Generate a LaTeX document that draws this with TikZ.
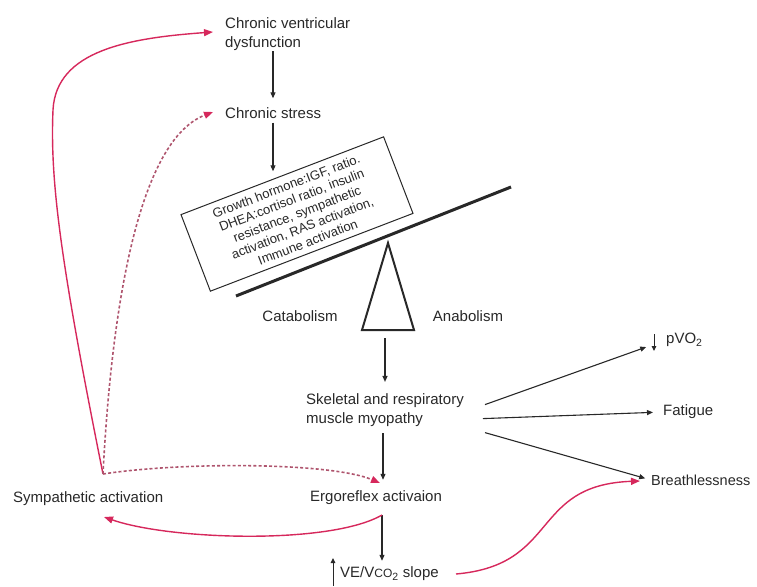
\documentclass[tikz,border=0pt]{standalone}
\usepackage{fontspec}
\setmainfont{Liberation Sans}
\usetikzlibrary{arrows.meta,calc}
\definecolor{linkred}{RGB}{214,40,92}
\definecolor{dashred}{RGB}{175,85,110}
\definecolor{ink}{RGB}{40,40,40}
\begin{document}
\begin{tikzpicture}[x=1pt,y=-1pt,
  lbl/.style={inner sep=0pt, anchor=west, text=ink, font=\fontsize{15}{19}\selectfont, align=left},
  blk/.style={draw=ink, line width=1.1pt, -{Triangle[length=6pt,width=5pt]}},
  mini/.style={draw=ink, line width=1pt, -{Triangle[length=5pt,width=4.5pt]}},
  redarr/.style={draw=linkred, line width=1.4pt, -{Triangle[length=9pt,width=7pt]}},
  reddash/.style={draw=dashred, line width=1.6pt, dash pattern=on 3pt off 2.2pt,
    -{Triangle[length=9pt,width=7pt,color=linkred]}}
]
\useasboundingbox (0,0) rectangle (757,586);

% text nodes
\node[lbl] (cvd) at (225,34.6) {Chronic ventricular\\dysfunction};
\node[lbl] (cs)  at (225,113) {Chronic stress};
\node[draw=ink, line width=1pt, rotate=21, minimum width=217pt, minimum height=82pt,
      align=center, inner sep=0pt, text=ink, font=\fontsize{13}{15}\selectfont]
      (box) at (297,214) {Growth hormone:IGF, ratio.\\ DHEA:cortisol ratio, insulin\\
      resistance, sympathetic\\ activation, RAS activation,\\ Immune activation};
\node[lbl, anchor=center] (cat) at (300,316) {Catabolism};
\node[lbl, anchor=center] (ana) at (468,316) {Anabolism};
\node[lbl] (myo) at (306,410.6) {Skeletal and respiratory\\muscle myopathy};
\node[lbl] (pvo) at (666,340) {pVO\textsubscript{2}};
\node[lbl] (fat) at (663,412) {Fatigue};
\node[lbl, font=\fontsize{14.5}{18}\selectfont] (bre) at (651,480) {Breathlessness};
\node[lbl] (erg) at (310,498) {Ergoreflex activaion};
\node[lbl] (sym) at (13,499) {Sympathetic activation};
\node[lbl] (ve)  at (340,574) {VE/V{\fontsize{12}{14}\selectfont CO}\textsubscript{2} slope};

% balance: lever and fulcrum
\draw[ink, line width=3pt] (236,296) -- (511,187);
\draw[ink, line width=2pt, line join=miter] (388,243) -- (414,330) -- (362,330) -- cycle;
\coordinate (fulcrum) at (385,330);

% connector ports
\coordinate (symUp)  at (103,474);
\coordinate (symIn)  at (104,517);
\coordinate (ergIn)  at (380,483);
\coordinate (ergOut) at (382,515);
\coordinate (veOut)  at (456,574);
\coordinate (breIn)  at (640,481);
\coordinate (csIn)   at (213,112);
\coordinate (cvdIn)  at (213,32);

% black flow
\draw[blk, shorten >=9pt] (cvd.south -| 273,0) -- (cs.north -| 273,0);
\draw[blk, shorten <=4pt, shorten >=4pt] (cs.south -| 273,0) -- (box.north -| 273,0);
\draw[blk, shorten <=8pt, shorten >=12pt] (fulcrum) -- (myo.north -| fulcrum);
\draw[blk, shorten <=6pt, shorten >=11pt] (myo.south -| 383,0) -- (erg.north -| 383,0);
\draw[blk, shorten <=10pt, shorten >=6pt] (erg.south -| 382,0) -- (ve.north -| 382,0);
\draw[blk, shorten >=21pt] ($(myo.east)+(21,-6)$) -- (pvo.west);
\draw[blk, shorten >=10pt] ($(myo.east)+(19,8)$) -- (fat.west);
\draw[blk, shorten >=6pt] ($(myo.east)+(21,22)$) -- (bre.west);

% small up/down marks
\draw[mini] ($(pvo.west)+(-12,-6)$) -- ($(pvo.west)+(-12,11)$);
\draw[mini] ($(ve.west)+(-7,12)$) -- ($(ve.west)+(-7,-16)$);

% feedback loops
\draw[redarr] (ergOut) .. controls (330,545) and (170,540) .. (symIn);
\draw[redarr] (veOut) .. controls (560,565) and (530,485) .. (breIn);
\draw[redarr] (symUp) .. controls (60,260) and (50,180) .. (53,110)
              .. controls (56,50) and (130,38) .. (cvdIn);
\draw[reddash] (symUp) .. controls (112,300) and (140,140) .. (csIn);
\draw[reddash] (symUp) .. controls (180,462) and (330,462) .. (ergIn);
\end{tikzpicture}
\end{document}
